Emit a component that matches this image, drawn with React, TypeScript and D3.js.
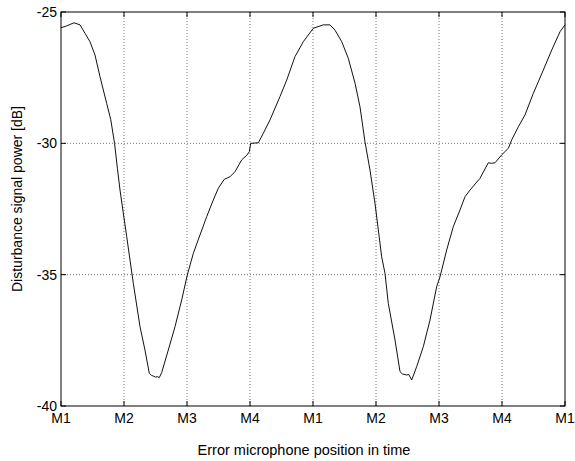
import React from "react";
import * as d3 from "d3";

// Position along the microphone cycle (0 = M1 ... 4 = M1 again ... 8 = M1)
const position: number[] = [
  0, 0.09, 0.206, 0.302, 0.381, 0.46, 0.54, 0.619, 0.725, 0.79, 0.85, 0.895, 0.937, 0.989,
  1.043, 1.095, 1.148, 1.254, 1.333, 1.402, 1.44, 1.465, 1.5, 1.529, 1.56, 1.598, 1.703, 1.81,
  1.916, 2.005, 2.1, 2.206, 2.313, 2.417, 2.497, 2.592, 2.683, 2.762, 2.868, 2.95, 2.989,
  3.011, 3.132, 3.211, 3.317, 3.476, 3.583, 3.714, 3.846, 4.005, 4.163, 4.27, 4.349, 4.456,
  4.56, 4.667, 4.746, 4.825, 4.905, 4.984, 5.037, 5.09, 5.143, 5.195, 5.302, 5.381, 5.42,
  5.487, 5.52, 5.567, 5.646, 5.751, 5.857, 5.963, 6.016, 6.122, 6.227, 6.333, 6.413, 6.492,
  6.651, 6.783, 6.83, 6.889, 6.995, 7.1, 7.154, 7.259, 7.365, 7.497, 7.656, 7.789, 7.921, 8.0,
];

// Disturbance signal power [dB]
const powerDb: number[] = [
  -25.6, -25.53, -25.41, -25.49, -25.81, -26.13, -26.64, -27.46, -28.48, -29.1, -30.0, -30.95,
  -31.78, -32.66, -33.55, -34.44, -35.33, -36.98, -37.87, -38.76, -38.84, -38.86, -38.9, -38.88,
  -38.92, -38.73, -37.87, -36.98, -35.96, -35.01, -34.19, -33.49, -32.79, -32.16, -31.71,
  -31.37, -31.27, -31.08, -30.63, -30.45, -30.32, -30.0, -29.98, -29.62, -29.11, -28.22,
  -27.59, -26.7, -26.13, -25.62, -25.49, -25.49, -25.69, -26.13, -26.76, -27.71, -28.61,
  -29.94, -31.02, -32.28, -33.3, -34.32, -34.95, -36.09, -37.49, -38.69, -38.78, -38.82,
  -38.8, -39.01, -38.5, -37.74, -36.73, -35.46, -35.08, -34.06, -33.17, -32.54, -32.03,
  -31.78, -31.33, -30.74, -30.76, -30.74, -30.44, -30.19, -29.87, -29.37, -28.92, -28.1,
  -27.21, -26.45, -25.75, -25.49,
];

const xTickValues: number[] = [0, 1, 2, 3, 4, 5, 6, 7, 8];
const xTickLabels: string[] = ["M1", "M2", "M3", "M4", "M1", "M2", "M3", "M4", "M1"];
const yTickValues: number[] = [-25, -30, -35, -40];

const xTitle = "Error microphone position in time";
const yTitle = "Disturbance signal power [dB]";

export default function App() {
  const W = 575;
  const H = 461;
  const left = 61;
  const right = 565;
  const top = 12;
  const bottom = 406;
  const font = "'Liberation Sans', Arial, Helvetica, sans-serif";

  const x = d3.scaleLinear().domain([0, 8]).range([left, right]);
  const y = d3.scaleLinear().domain([-40, -25]).range([bottom, top]);

  const data = position.map((p, i) => [p, powerDb[i]] as [number, number]);
  const line = d3
    .line<[number, number]>()
    .x((d) => x(d[0]))
    .y((d) => y(d[1]));

  const tickLen = 5;

  return (
    <svg
      width={W}
      height={H}
      style={{ position: "absolute", left: 0, top: 0, background: "#fff" }}
    >
      <rect x={0} y={0} width={W} height={H} fill="#fff" />
      {/* grid */}
      {xTickValues.slice(1, -1).map((v) => (
        <line
          key={"gx" + v}
          x1={x(v)}
          x2={x(v)}
          y1={top}
          y2={bottom}
          stroke="#555"
          strokeWidth={0.8}
          strokeDasharray="1,2"
        />
      ))}
      {yTickValues
        .filter((v) => v !== -25 && v !== -40)
        .map((v) => (
          <line
            key={"gy" + v}
            x1={left}
            x2={right}
            y1={y(v)}
            y2={y(v)}
            stroke="#555"
            strokeWidth={0.8}
            strokeDasharray="1,2"
          />
        ))}
      {/* ticks */}
      {xTickValues.map((v) => (
        <g key={"tx" + v}>
          <line x1={x(v)} x2={x(v)} y1={bottom} y2={bottom - tickLen} stroke="#000" />
          <line x1={x(v)} x2={x(v)} y1={top} y2={top + tickLen} stroke="#000" />
        </g>
      ))}
      {yTickValues.map((v) => (
        <g key={"ty" + v}>
          <line x1={left} x2={left + tickLen} y1={y(v)} y2={y(v)} stroke="#000" />
          <line x1={right} x2={right - tickLen} y1={y(v)} y2={y(v)} stroke="#000" />
        </g>
      ))}
      {/* data line */}
      <path d={line(data) || ""} fill="none" stroke="#111" strokeWidth={1} />
      {/* box */}
      <rect
        x={left}
        y={top}
        width={right - left}
        height={bottom - top}
        fill="none"
        stroke="#000"
        strokeWidth={1}
      />
      {/* tick labels */}
      {xTickValues.map((v, i) => (
        <text
          key={"lx" + v}
          x={x(v)}
          y={bottom + 17}
          textAnchor="middle"
          fontFamily={font}
          fontSize={14}
          fill="#000"
        >
          {xTickLabels[i]}
        </text>
      ))}
      {yTickValues.map((v) => (
        <text
          key={"ly" + v}
          x={left - 4}
          y={y(v)}
          dy="0.35em"
          textAnchor="end"
          fontFamily={font}
          fontSize={14}
          fill="#000"
        >
          {String(v)}
        </text>
      ))}
      {/* axis titles */}
      <text
        x={304}
        y={455}
        textAnchor="middle"
        fontFamily={font}
        fontSize={14.5}
        fill="#000"
      >
        {xTitle}
      </text>
      <text
        transform={`translate(22, 199) rotate(-90)`}
        textAnchor="middle"
        fontFamily={font}
        fontSize={14}
        fill="#000"
      >
        {yTitle}
      </text>
    </svg>
  );
}
